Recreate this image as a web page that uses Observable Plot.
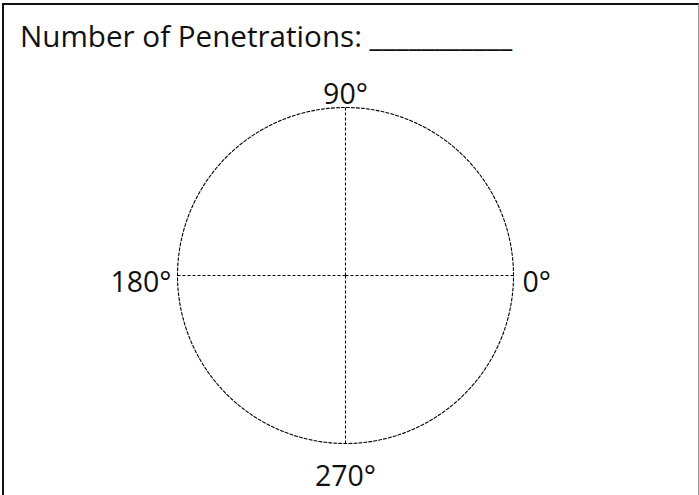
<!DOCTYPE html>
<html>
<head>
<meta charset="utf-8">
<script src="https://cdn.jsdelivr.net/npm/d3@7"></script>
<script src="https://cdn.jsdelivr.net/npm/@observablehq/plot@0.6"></script>
<style>
  html, body { margin: 0; padding: 0; background: #fff; overflow: hidden; width: 699px; height: 495px; }
  #frame { position: absolute; left: 2px; top: 3px; width: 697px; height: 600px; box-sizing: border-box;
           border-left: 2px solid #111; border-top: 2px solid #111; border-right: 1px solid #999; }
  #title { position: absolute; left: 20px; top: 21px; font-family: "Open Sans", sans-serif; font-size: 29.6px; color: #111; white-space: pre; line-height: 1; }
  #chart { position: absolute; left: 0; top: 80px; }
</style>
</head>
<body>
<div id="frame"></div>
<div id="title"></div>
<div id="chart"></div>
<script>
const titleText = "Number of Penetrations: ___________";
const angles = [0, 90, 180, 270];
const angleLabels = ["0°", "90°", "180°", "270°"];

document.getElementById("title").textContent = titleText;

const rad = d => d * Math.PI / 180;
const spokes = angles.map((a, i) => ({angle: a, label: angleLabels[i], x: Math.cos(rad(a)), y: Math.sin(rad(a))}));
const ring = d3.range(0, 361, 1).map(a => ({x: Math.cos(rad(a)), y: Math.sin(rad(a))}));

const dash = "3,2";
const fs = 28.5;
const chart = Plot.plot({
  width: 699,
  height: 415,
  marginLeft: 177,
  marginRight: 186,
  marginTop: 27,
  marginBottom: 52,
  x: {domain: [-1, 1], axis: null},
  y: {domain: [-1, 1], axis: null},
  style: {fontFamily: "Open Sans, sans-serif", background: "transparent", overflow: "visible"},
  marks: [
    Plot.line(ring, {x: "x", y: "y", stroke: "#000", strokeWidth: 1.1, strokeDasharray: dash}),
    Plot.link(spokes, {x1: () => 0, y1: () => 0, x2: "x", y2: "y", stroke: "#000", strokeWidth: 1.1, strokeDasharray: dash}),
    Plot.text(spokes.filter(d => d.angle === 0), {x: "x", y: "y", text: "label", textAnchor: "start", dx: 9, dy: 7, fontSize: fs, fill: "#111"}),
    Plot.text(spokes.filter(d => d.angle === 180), {x: "x", y: "y", text: "label", textAnchor: "end", dx: -6, dy: 7, fontSize: fs, fill: "#111"}),
    Plot.text(spokes.filter(d => d.angle === 90), {x: "x", y: "y", text: "label", lineAnchor: "bottom", dy: -4, fontSize: fs, fill: "#111"}),
    Plot.text(spokes.filter(d => d.angle === 270), {x: "x", y: "y", text: "label", lineAnchor: "top", dy: 22, fontSize: fs, fill: "#111"})
  ]
});
document.getElementById("chart").appendChild(chart);
</script>
</body>
</html>
